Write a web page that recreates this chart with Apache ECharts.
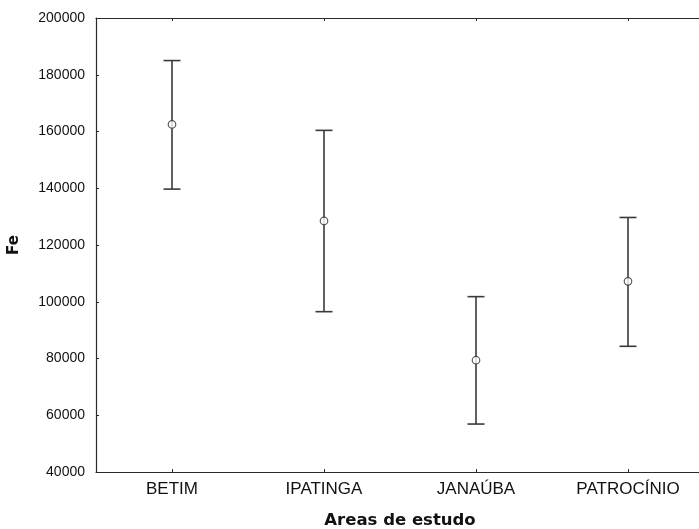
<!DOCTYPE html>
<html>
<head>
<meta charset="utf-8">
<script src="https://cdn.jsdelivr.net/npm/echarts@6/dist/echarts.min.js"></script>
<style>
html,body{margin:0;padding:0;background:#fff;}
#chart{width:699px;height:529px;}
</style>
</head>
<body>
<div id="chart"></div>
<script>
// Data
var categories = ['BETIM', 'IPATINGA', 'JANAÚBA', 'PATROCÍNIO'];
var means = [162500, 128500, 79400, 107200];
var lowers = [139700, 96500, 56900, 84300];
var uppers = [185000, 160400, 101800, 129700];
var yTicks = [40000, 60000, 80000, 100000, 120000, 140000, 160000, 180000, 200000];

var chart = echarts.init(document.getElementById('chart'));

var errData = categories.map(function (c, i) { return [i, lowers[i], uppers[i]]; });
var meanData = categories.map(function (c, i) { return [i, means[i]]; });

var lineCol = '#2a2a2a';
var barCol = '#3a3a3a';

chart.setOption({
  animation: false,
  backgroundColor: '#fff',
  grid: { left: 96, top: 18, width: 608, height: 454, containLabel: false, outerBoundsMode: 'none' },
  xAxis: [{
    type: 'category',
    data: categories,
    position: 'bottom',
    boundaryGap: true,
    name: 'Areas de estudo',
    nameLocation: 'middle',
    nameGap: 40,
    nameTextStyle: { fontFamily: 'DejaVu Sans', fontWeight: 'bold', fontSize: 16.5, color: '#111' },
    axisLine: { show: true, lineStyle: { color: lineCol, width: 1.2 } },
    axisTick: { show: true, inside: true, alignWithLabel: true, length: 3, lineStyle: { color: lineCol } },
    axisLabel: { margin: 9, fontFamily: 'Liberation Sans', fontSize: 17, color: '#111' },
    splitLine: { show: false }
  }, {
    type: 'category',
    data: categories,
    position: 'top',
    boundaryGap: true,
    axisLine: { show: true, lineStyle: { color: lineCol, width: 1.2 } },
    axisTick: { show: true, inside: true, alignWithLabel: true, length: 3, lineStyle: { color: lineCol } },
    axisLabel: { show: false },
    splitLine: { show: false }
  }],
  yAxis: {
    type: 'value',
    min: yTicks[0],
    max: yTicks[yTicks.length - 1],
    interval: yTicks[1] - yTicks[0],
    name: 'Fe',
    nameLocation: 'middle',
    nameGap: 74,
    nameRotate: 90,
    nameTextStyle: { fontFamily: 'DejaVu Sans', fontWeight: 'bold', fontSize: 15, color: '#111' },
    axisLine: { show: true, lineStyle: { color: lineCol, width: 1.2 } },
    axisTick: { show: true, inside: true, length: 3, lineStyle: { color: lineCol } },
    axisLabel: { margin: 11, fontFamily: 'Liberation Sans', fontSize: 14, color: '#111',
      formatter: function (v) { return String(v); } },
    splitLine: { show: false }
  },
  series: [{
    type: 'custom',
    xAxisIndex: 0,
    data: errData,
    renderItem: function (params, api) {
      var x = api.value(0);
      var lo = api.coord([x, api.value(1)]);
      var hi = api.coord([x, api.value(2)]);
      var hw = 8.5;
      var st = { stroke: barCol, lineWidth: 1.6 };
      return {
        type: 'group',
        children: [
          { type: 'line', shape: { x1: hi[0], y1: hi[1], x2: lo[0], y2: lo[1] }, style: st },
          { type: 'line', shape: { x1: hi[0] - hw, y1: hi[1], x2: hi[0] + hw, y2: hi[1] }, style: st },
          { type: 'line', shape: { x1: lo[0] - hw, y1: lo[1], x2: lo[0] + hw, y2: lo[1] }, style: st }
        ]
      };
    },
    z: 2
  }, {
    type: 'scatter',
    xAxisIndex: 0,
    data: meanData,
    symbol: 'circle',
    symbolSize: 7.5,
    itemStyle: { color: '#fff', borderColor: '#333', borderWidth: 1.2 },
    z: 3
  }]
});
</script>
</body>
</html>
